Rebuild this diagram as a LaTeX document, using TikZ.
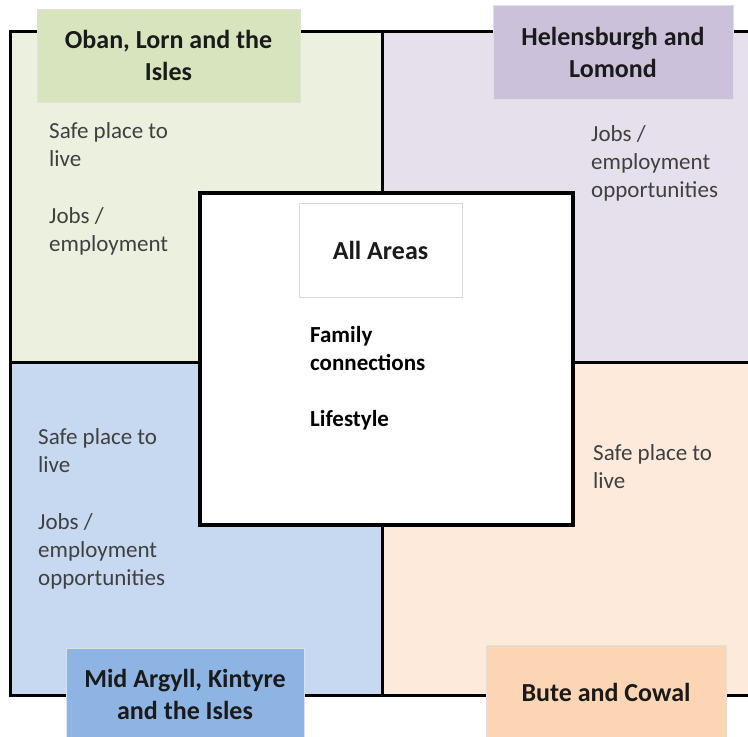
\documentclass[tikz,border=0pt]{standalone}
\usepackage{fontspec}
\setmainfont{Carlito}
\definecolor{greenbg}{HTML}{EBF1DE}
\definecolor{greentag}{HTML}{D7E4BD}
\definecolor{purplebg}{HTML}{E6E0EC}
\definecolor{purpletag}{HTML}{CCC1DA}
\definecolor{bluebg}{HTML}{C6D9F1}
\definecolor{bluetag}{HTML}{8EB4E3}
\definecolor{peachbg}{HTML}{FDEADA}
\definecolor{peachtag}{HTML}{FCD5B5}
\definecolor{bodytext}{HTML}{404040}
\definecolor{tagtext}{HTML}{1A1A1A}
\begin{document}
\begin{tikzpicture}[x=1pt,y=-1pt,
  % notes are placed by the baseline of their last line
  body/.style={anchor=base west, inner sep=0pt, align=left, text=bodytext,
    font=\fontsize{23}{28}\selectfont},
  centre text/.style={body, text=black, font=\fontsize{23}{28}\selectfont\bfseries},
  tag/.style={draw=black!12, line width=0.8pt, inner sep=0pt, align=center,
    text=tagtext, font=\fontsize{26}{32}\selectfont\bfseries},
  frame/.style={line width=3pt}]
\useasboundingbox (0,0) rectangle (748,737);
\clip (0,0) rectangle (748,737);

% four quadrants
\fill[greenbg]  (10,31)   rectangle (382,362);
\fill[purplebg] (382,31)  rectangle (760,362);
\fill[bluebg]   (10,362)  rectangle (382,695);
\fill[peachbg]  (382,362) rectangle (760,695);
\draw[frame] (10,31) rectangle (760,695);
\draw[frame] (382,31) -- (382,695);
\draw[frame] (10,362) -- (760,362);

% area labels
\node[tag, fill=greentag, minimum width=263pt, minimum height=93pt] (oban) at (168.5,55.5)
  {Oban, Lorn and the\\Isles};
\node[tag, fill=purpletag, minimum width=240pt, minimum height=94pt] (helensburgh) at (613,52)
  {Helensburgh  and\\Lomond};
\node[tag, fill=bluetag, minimum width=238pt, minimum height=92pt] (midargyll) at (185,694)
  {Mid Argyll, Kintyre\\and the Isles};
\node[tag, fill=peachtag, minimum width=240pt, minimum height=94pt] (bute) at (606,692)
  {Bute and  Cowal};

% quadrant notes
\node[body] (oban1) at (49,166) {Safe place to\\live};
\node[body] (oban2) at (49,251) {Jobs /\\employment};
\node[body] (hel1) at (591,197) {Jobs /\\employment\\opportunities};
\node[body] (mid1) at (38,472) {Safe place to\\live};
\node[body] (mid2) at (38,585) {Jobs /\\employment\\opportunities};
\node[body] (bute1) at (593,488) {Safe place to\\live};

% central box
\node[draw, line width=4pt, fill=white, inner sep=0pt,
  minimum width=373pt, minimum height=332pt] (all) at (386.5,359) {};
\node[tag, draw=black!15, fill=white, minimum width=163pt, minimum height=94pt]
  (allareas) at (380.5,250) {All Areas};
\node[centre text] (fam) at (310,370) {Family\\connections};
\node[centre text] (life) at (310,426) {Lifestyle};
\end{tikzpicture}
\end{document}
